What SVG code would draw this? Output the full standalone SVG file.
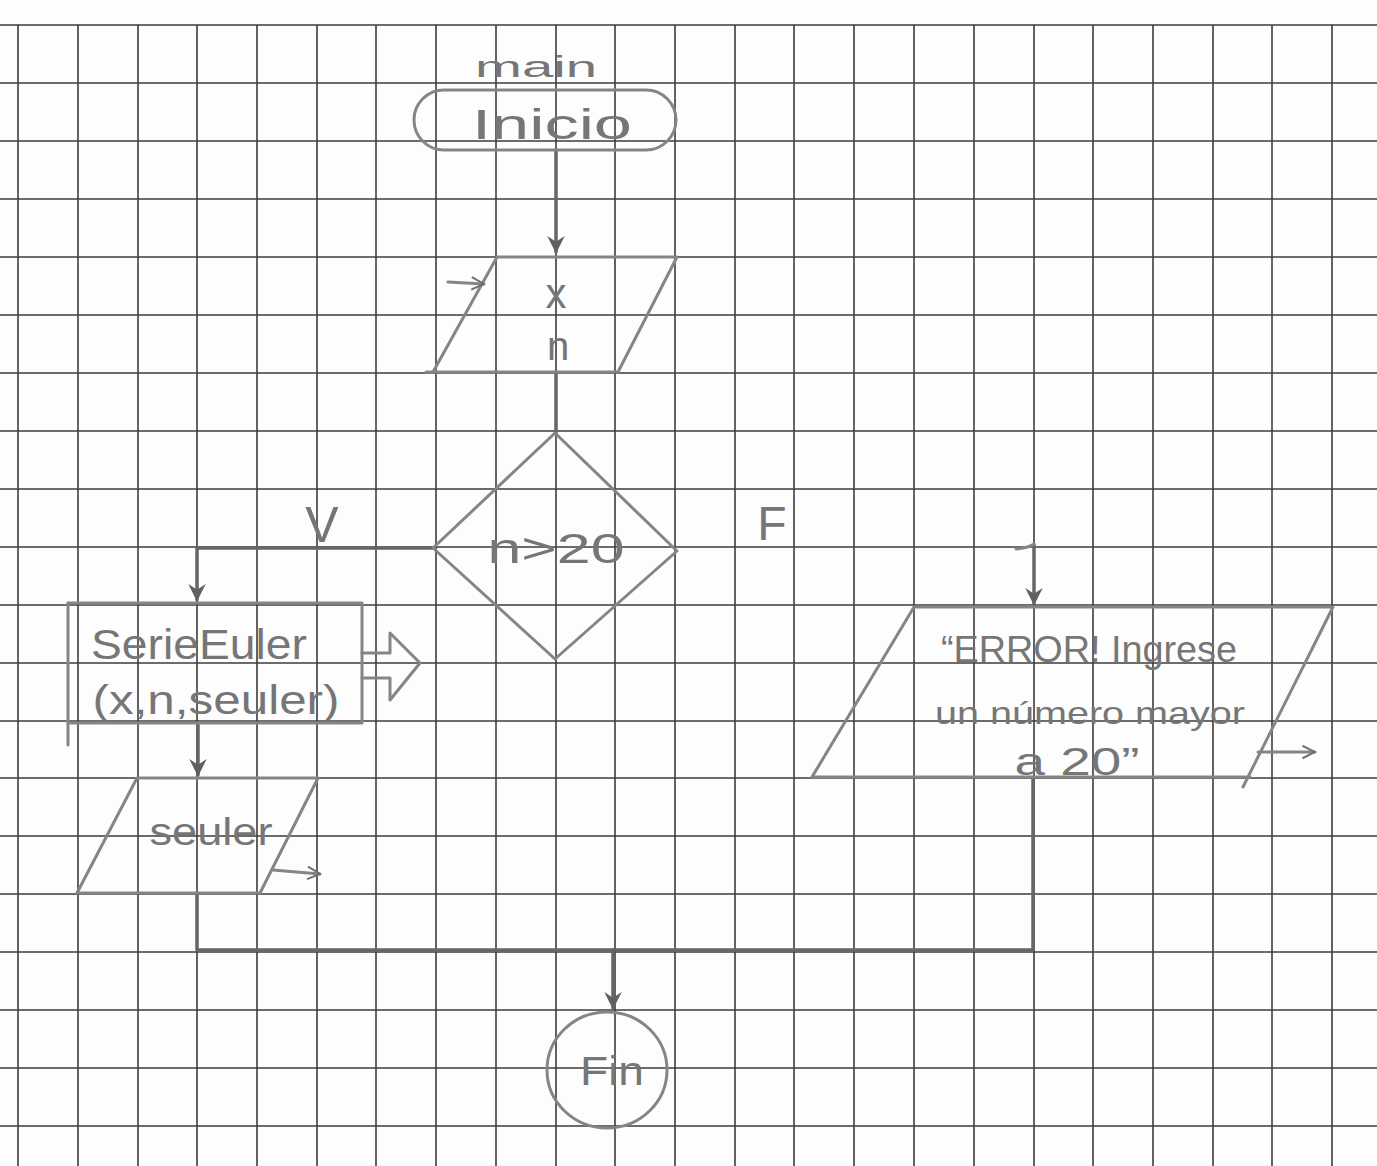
<svg xmlns="http://www.w3.org/2000/svg" width="1377" height="1166" viewBox="0 0 1377 1166">
<defs>
<style>
.grid{stroke:#3c3c3c;stroke-width:1.6;fill:none}
.pen{stroke:#858585;stroke-width:3;fill:none;stroke-linecap:round;stroke-linejoin:round}
.pend{stroke:#666;stroke-width:3.5;fill:none;stroke-linecap:round;stroke-linejoin:round}
.txt{font-family:"Liberation Sans","DejaVu Sans",sans-serif;fill:#767676;text-anchor:middle}
</style>
<marker id="ah" viewBox="0 0 12 12" refX="11" refY="6" markerWidth="5" markerHeight="5" orient="auto" markerUnits="strokeWidth">
<path d="M0,0 L12,6 L0,12 L4,6 z" fill="#606060"/>
</marker>
<marker id="ao" viewBox="0 0 12 12" refX="11" refY="6" markerWidth="5" markerHeight="5" orient="auto" markerUnits="strokeWidth">
<path d="M1,1 L11,6 L1,11" fill="none" stroke="#707070" stroke-width="1.6"/>
</marker>
</defs>
<rect width="1377" height="1166" fill="#fdfdfd"/>
<g id="grid" class="grid">
<path d="M18 25V1166M78 25V1166M138 25V1166M197 25V1166M257 25V1166M317 25V1166M376 25V1166M436 25V1166M496 25V1166M556 25V1166M615 25V1166M675 25V1166M735 25V1166M794 25V1166M854 25V1166M914 25V1166M974 25V1166M1034 25V1166M1093 25V1166M1153 25V1166M1213 25V1166M1272 25V1166M1332 25V1166"/>
<path d="M0 25H1377M0 83H1377M0 141H1377M0 199H1377M0 257H1377M0 315H1377M0 373H1377M0 431H1377M0 489H1377M0 547H1377M0 605H1377M0 663H1377M0 721H1377M0 778H1377M0 836H1377M0 894H1377M0 952H1377M0 1010H1377M0 1068H1377M0 1126H1377"/>
</g>
<g id="connectors">
<path class="pend" d="M556 150V252" marker-end="url(#ah)"/>
<path class="pend" d="M556 372V433"/>
<path class="pend" d="M434 548H197V600" marker-end="url(#ah)"/>
<path class="pend" d="M198 723V775" marker-end="url(#ah)"/>
<path class="pend" d="M197 893V950H1033V778"/>
<path class="pend" d="M1034 545V604" marker-end="url(#ah)"/>
<path class="pen" d="M1016 549Q1028 548 1034 544"/>
<path class="pend" d="M613 950V1008" marker-end="url(#ah)"/>
</g>
<g id="start">
<text class="txt" x="536" y="77" font-size="30" textLength="122" lengthAdjust="spacingAndGlyphs">main</text>
<rect class="pen" x="414" y="90" width="262" height="60" rx="30"/>
<text class="txt" x="552" y="139" font-size="42" textLength="160" lengthAdjust="spacingAndGlyphs">Inicio</text>
</g>
<g id="input">
<path class="pen" d="M497 257H677L618 372H426"/>
<path class="pen" d="M497 257L433 372"/>
<path class="pen" d="M448 282L484 284" marker-end="url(#ao)"/>
<text class="txt" x="556" y="308" font-size="42">x</text>
<text class="txt" x="558" y="360" font-size="40">n</text>
</g>
<g id="decision">
<path class="pen" d="M555 433L677 551L555 659L433 548Z"/>
<text class="txt" x="556" y="563" font-size="42" textLength="137" lengthAdjust="spacingAndGlyphs">n&gt;20</text>
<text class="txt" x="322" y="542" font-size="50">V</text>
<text class="txt" x="772" y="540" font-size="48">F</text>
</g>
<g id="subprocess">
<path class="pen" d="M68 603V745"/>
<path class="pen" d="M68 603H362V723H68"/>
<text class="txt" x="199" y="659" font-size="42" textLength="216" lengthAdjust="spacingAndGlyphs">SerieEuler</text>
<text class="txt" x="216" y="714" font-size="40" textLength="247" lengthAdjust="spacingAndGlyphs">(x,n,seuler)</text>
<path class="pen" d="M362 653H390V633L420 663L390 700V678H362"/>
</g>
<g id="output-seuler">
<path class="pen" d="M137 778H318L260 893H77Z"/>
<text class="txt" x="211" y="845" font-size="38" textLength="123" lengthAdjust="spacingAndGlyphs">seuler</text>
<path class="pen" d="M273 870L320 874" marker-end="url(#ao)"/>
</g>
<g id="output-error">
<path class="pen" d="M914 607H1333L1243 787M1250 777H812L914 607"/>
<text class="txt" x="1089" y="662" font-size="36" textLength="296" lengthAdjust="spacingAndGlyphs">“ERROR! Ingrese</text>
<text class="txt" x="1090" y="724" font-size="32" textLength="310" lengthAdjust="spacingAndGlyphs">un número mayor</text>
<text class="txt" x="1077" y="775" font-size="38" textLength="125" lengthAdjust="spacingAndGlyphs">a 20”</text>
<path class="pen" d="M1258 752L1315 752" marker-end="url(#ao)"/>
</g>
<g id="end">
<ellipse class="pen" cx="607" cy="1070" rx="60" ry="58"/>
<text class="txt" x="612" y="1085" font-size="40" textLength="64" lengthAdjust="spacingAndGlyphs">Fin</text>
</g>
</svg>
